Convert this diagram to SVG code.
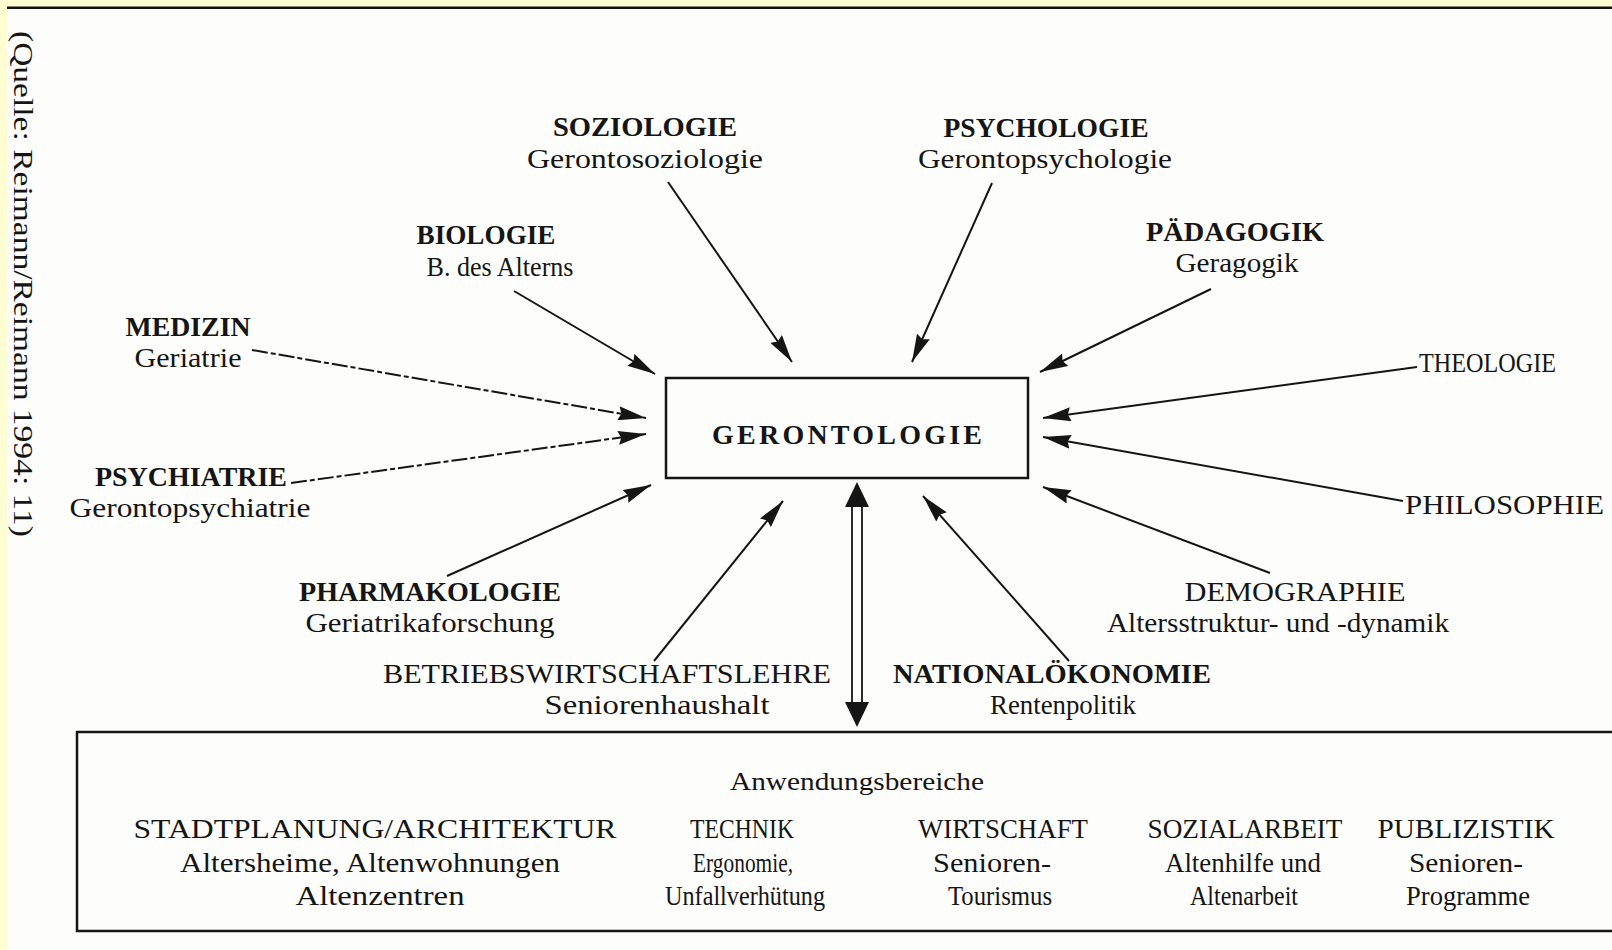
<svg xmlns="http://www.w3.org/2000/svg" width="1612" height="950" viewBox="0 0 1612 950">
<style>
text{font-family:"Liberation Serif","Times New Roman",serif;fill:#151515;font-size:28px;text-anchor:middle}
.b{font-weight:bold}
.l{text-anchor:start}
.s{font-size:26px}
.c{stroke:#151515;stroke-width:2;fill:none}
.d{stroke-dasharray:16 3 5 3}
.box{fill:none;stroke:#151515;stroke-width:2.5}
</style>
<defs>
<marker id="ah" viewBox="0 0 28 14" refX="28" refY="7" markerWidth="28" markerHeight="14" markerUnits="userSpaceOnUse" orient="auto">
<path d="M0,0 L28,7 L0,14 L3,7 z" fill="#151515"/>
</marker>
</defs>
<rect x="0" y="0" width="1612" height="950" fill="#fdfdfb"/>
<rect x="0" y="0" width="1612" height="7" fill="#fffdd2"/>
<rect x="0" y="0" width="7" height="950" fill="#fffdd2"/>
<rect x="7" y="6.5" width="1605" height="2.5" fill="#111"/>

<g id="quelle"><text class="l" transform="translate(14,31) rotate(90)" textLength="506" lengthAdjust="spacingAndGlyphs">(Quelle: Reimann/Reimann 1994: 11)</text></g>

<g id="connectors">
<line class="c" x1="668" y1="182" x2="792" y2="362" marker-end="url(#ah)"/>
<line class="c" x1="992" y1="183" x2="912" y2="362" marker-end="url(#ah)"/>
<line class="c" x1="514" y1="291" x2="655" y2="374" marker-end="url(#ah)"/>
<line class="c" x1="1211" y1="289" x2="1040" y2="372" marker-end="url(#ah)"/>
<line class="c d" x1="252" y1="350" x2="646" y2="418" marker-end="url(#ah)"/>
<line class="c d" x1="291" y1="483" x2="646" y2="434" marker-end="url(#ah)"/>
<line class="c" x1="1417" y1="367" x2="1043" y2="418" marker-end="url(#ah)"/>
<line class="c" x1="1403" y1="501" x2="1043" y2="437" marker-end="url(#ah)"/>
<line class="c" x1="447" y1="576" x2="651" y2="485" marker-end="url(#ah)"/>
<line class="c" x1="654" y1="661" x2="783" y2="501" marker-end="url(#ah)"/>
<line class="c" x1="1069" y1="661" x2="923" y2="496" marker-end="url(#ah)"/>
<line class="c" x1="1270" y1="573" x2="1043" y2="487" marker-end="url(#ah)"/>
<g id="double-arrow">
<line x1="852" y1="500" x2="852" y2="706" stroke="#151515" stroke-width="1.8"/>
<line x1="862" y1="500" x2="862" y2="706" stroke="#151515" stroke-width="1.8"/>
<path d="M857,482 L869,507 L845,507 z" fill="#151515"/>
<path d="M857,727 L869,702 L845,702 z" fill="#151515"/>
</g>
</g>

<g id="gerontologie">
<rect class="box" x="666" y="378" width="362" height="100"/>
<text class="b" x="847" y="444" textLength="270" lengthAdjust="spacing">GERONTOLOGIE</text>
</g>

<g id="soziologie">
<text class="b" x="645" y="136" textLength="184" lengthAdjust="spacingAndGlyphs">SOZIOLOGIE</text>
<text x="645" y="168" textLength="236" lengthAdjust="spacingAndGlyphs">Gerontosoziologie</text>
</g>
<g id="psychologie">
<text class="b" x="1046" y="137" textLength="205" lengthAdjust="spacingAndGlyphs">PSYCHOLOGIE</text>
<text x="1045" y="168" textLength="254" lengthAdjust="spacingAndGlyphs">Gerontopsychologie</text>
</g>
<g id="biologie">
<text class="b" x="486" y="244" textLength="139" lengthAdjust="spacingAndGlyphs">BIOLOGIE</text>
<text x="500" y="276" textLength="147" lengthAdjust="spacingAndGlyphs">B. des Alterns</text>
</g>
<g id="paedagogik">
<text class="b" x="1235" y="241" textLength="178" lengthAdjust="spacingAndGlyphs">PÄDAGOGIK</text>
<text x="1237" y="272" textLength="123" lengthAdjust="spacingAndGlyphs">Geragogik</text>
</g>
<g id="medizin">
<text class="b" x="188" y="336" textLength="125" lengthAdjust="spacingAndGlyphs">MEDIZIN</text>
<text x="188" y="367" textLength="107" lengthAdjust="spacingAndGlyphs">Geriatrie</text>
</g>
<g id="theologie">
<text class="l" x="1419" y="372" textLength="137" lengthAdjust="spacingAndGlyphs">THEOLOGIE</text>
</g>
<g id="psychiatrie">
<text class="b" x="191" y="486" textLength="192" lengthAdjust="spacingAndGlyphs">PSYCHIATRIE</text>
<text x="190" y="517" textLength="241" lengthAdjust="spacingAndGlyphs">Gerontopsychiatrie</text>
</g>
<g id="philosophie">
<text class="l" x="1405" y="514" textLength="199" lengthAdjust="spacingAndGlyphs">PHILOSOPHIE</text>
</g>
<g id="pharmakologie">
<text class="b" x="430" y="601" textLength="262" lengthAdjust="spacingAndGlyphs">PHARMAKOLOGIE</text>
<text x="430" y="632" textLength="249" lengthAdjust="spacingAndGlyphs">Geriatrikaforschung</text>
</g>
<g id="demographie">
<text x="1295" y="601" textLength="221" lengthAdjust="spacingAndGlyphs">DEMOGRAPHIE</text>
<text x="1278" y="632" textLength="342" lengthAdjust="spacingAndGlyphs">Altersstruktur- und -dynamik</text>
</g>
<g id="bwl">
<text x="607" y="683" textLength="448" lengthAdjust="spacingAndGlyphs">BETRIEBSWIRTSCHAFTSLEHRE</text>
<text x="657" y="714" textLength="225" lengthAdjust="spacingAndGlyphs">Seniorenhaushalt</text>
</g>
<g id="nationaloekonomie">
<text class="b" x="1052" y="683" textLength="318" lengthAdjust="spacingAndGlyphs">NATIONALÖKONOMIE</text>
<text x="1063" y="714" textLength="146" lengthAdjust="spacingAndGlyphs">Rentenpolitik</text>
</g>

<g id="anwendungsbereiche">
<path class="box" d="M1615,732 L77,732 L77,931 L1615,931"/>
<text class="s" x="857" y="790" textLength="254" lengthAdjust="spacingAndGlyphs">Anwendungsbereiche</text>
<g id="stadtplanung">
<text x="375" y="838" textLength="483" lengthAdjust="spacingAndGlyphs">STADTPLANUNG/ARCHITEKTUR</text>
<text x="370" y="872" textLength="380" lengthAdjust="spacingAndGlyphs">Altersheime, Altenwohnungen</text>
<text x="380" y="905" textLength="169" lengthAdjust="spacingAndGlyphs">Altenzentren</text>
</g>
<g id="technik">
<text x="742" y="838" textLength="104" lengthAdjust="spacingAndGlyphs">TECHNIK</text>
<text x="743" y="872" textLength="100" lengthAdjust="spacingAndGlyphs">Ergonomie,</text>
<text x="745" y="905" textLength="160" lengthAdjust="spacingAndGlyphs">Unfallverhütung</text>
</g>
<g id="wirtschaft">
<text x="1003" y="838" textLength="170" lengthAdjust="spacingAndGlyphs">WIRTSCHAFT</text>
<text x="992" y="872" textLength="118" lengthAdjust="spacingAndGlyphs">Senioren-</text>
<text x="1000" y="905" textLength="104" lengthAdjust="spacingAndGlyphs">Tourismus</text>
</g>
<g id="sozialarbeit">
<text x="1245" y="838" textLength="195" lengthAdjust="spacingAndGlyphs">SOZIALARBEIT</text>
<text x="1243" y="872" textLength="156" lengthAdjust="spacingAndGlyphs">Altenhilfe und</text>
<text x="1244" y="905" textLength="108" lengthAdjust="spacingAndGlyphs">Altenarbeit</text>
</g>
<g id="publizistik">
<text x="1466" y="838" textLength="177" lengthAdjust="spacingAndGlyphs">PUBLIZISTIK</text>
<text x="1466" y="872" textLength="114" lengthAdjust="spacingAndGlyphs">Senioren-</text>
<text x="1468" y="905" textLength="124" lengthAdjust="spacingAndGlyphs">Programme</text>
</g>
</g>
</svg>
